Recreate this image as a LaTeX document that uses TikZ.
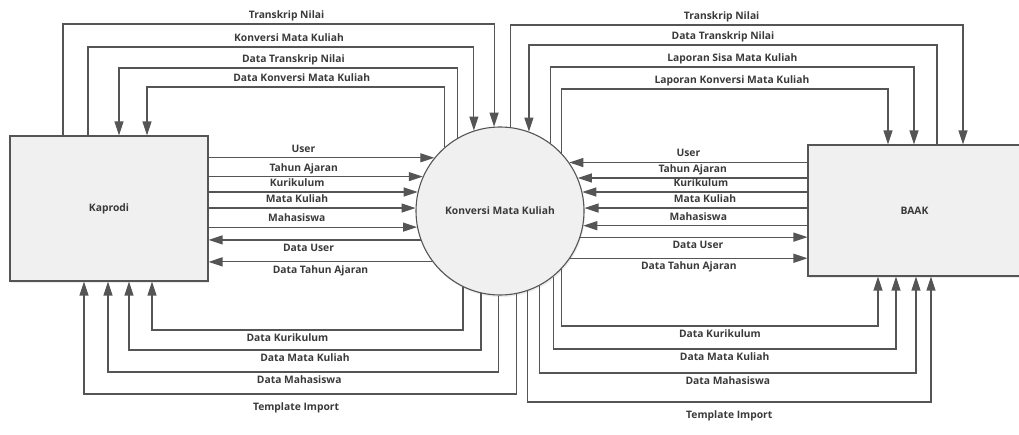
\documentclass[tikz,border=0pt]{standalone}
\usepackage{fontspec}
\setmainfont{Open Sans}
\usetikzlibrary{arrows.meta,shadows}
\definecolor{garis}{HTML}{555555}
\definecolor{teks}{HTML}{3A3A3A}
\definecolor{isi}{HTML}{F0F0F0}
\begin{document}
\begin{tikzpicture}[x=1pt,y=-1pt,font=\bfseries\fontsize{10.3}{11}\selectfont]

\tikzset{entitas/.style={rectangle,draw=garis,line width=1.1pt,fill=isi,text=teks,inner sep=0pt,drop shadow={opacity=0.15,shadow xshift=1pt,shadow yshift=-2pt}},}
\tikzset{proses/.style={circle,draw=garis,line width=1.1pt,fill=isi,text=teks,minimum size=168pt,inner sep=0pt,drop shadow={opacity=0.15,shadow xshift=1pt,shadow yshift=-2pt}},}
\tikzset{alir/.style={draw=garis,line width=1.2pt,-{Triangle[length=14pt,width=9pt]}},}
\tikzset{atas/.style={above=2pt,inner sep=1pt,text=teks,text height=8pt,text depth=2pt},}
\tikzset{bawah/.style={below=2pt,inner sep=1pt,text=teks,text height=8pt,text depth=2pt},}

\useasboundingbox (0,0) rectangle (1019,434);

%ENTITAS DAN PROSES
\draw (109,208.5) node [entitas,minimum width=198pt,minimum height=145pt] (kaprodi) {Kaprodi};
\draw (500,211) node [proses] (konversi) {Konversi Mata Kuliah};
\draw (914.5,210.5) node [entitas,minimum width=213pt,minimum height=131pt] (baak) {BAAK};

%KAPRODI ATAS
\draw[alir] (kaprodi.north -| 63,0) -- (63,24) -- node[atas,xshift=8pt]{Transkrip Nilai} (konversi.94.1 |- 0,24) -- (konversi.94.1);
\draw[alir] (kaprodi.north -| 88,0) -- (88,47) -- node[atas,xshift=8pt]{Konversi Mata Kuliah} (konversi.108.7 |- 0,47) -- (konversi.108.7);
\draw[alir] (konversi.120.8) -- (konversi.120.8 |- 0,68) -- node[atas,xshift=5pt]{Data Transkrip Nilai} (119,68) -- (kaprodi.north -| 119,0);
\draw[alir] (konversi.131.8) -- (konversi.131.8 |- 0,87) -- node[atas,xshift=6pt]{Data Konversi Mata Kuliah} (147,87) -- (kaprodi.north -| 147,0);

%BAAK ATAS
\draw[alir] (konversi.83.85) -- (konversi.83.85 |- 0,25) -- node[atas,xshift=-15pt]{Transkrip Nilai} (963,25) -- (baak.north -| 963,0);
\draw[alir] (baak.north -| 937,0) -- (937,45) -- node[atas,xshift=-10pt]{Data Transkrip Nilai} (konversi.70.5 |- 0,45) -- (konversi.70.5);
\draw[alir] (konversi.53.5) -- (konversi.53.5 |- 0,67) -- node[atas]{Laporan Sisa Mata Kuliah} (914,67) -- (baak.north -| 914,0);
\draw[alir] (konversi.43.4) -- (konversi.43.4 |- 0,89) -- node[atas,xshift=7pt]{Laporan Konversi Mata Kuliah} (888,89) -- (baak.north -| 888,0);

%KAPRODI TENGAH
\draw[alir] (kaprodi.east |- konversi.141.8) -- node[atas,xshift=-18pt]{User} (konversi.141.8);
\draw[alir] (kaprodi.east |- konversi.156.9) -- node[atas,xshift=-12pt]{Tahun Ajaran} (konversi.156.9);
\draw[alir] (kaprodi.east |- konversi.167.6) -- node[atas,xshift=-16pt]{Kurikulum} (konversi.167.6);
\draw[alir] (kaprodi.east |- konversi.178.6) -- node[atas,xshift=-15pt]{Mata Kuliah} (konversi.178.6);
\draw[alir] (kaprodi.east |- konversi.191.0) -- node[atas,xshift=-16pt]{Mahasiswa} (konversi.191.0);
\draw[alir] (konversi.200.2) -- node[bawah,xshift=-6pt]{Data User} (kaprodi.east |- konversi.200.2);
\draw[alir] (konversi.217.4) -- node[bawah]{Data Tahun Ajaran} (kaprodi.east |- konversi.217.4);

%BAAK TENGAH
\draw[alir] (baak.west |- konversi.35.7) -- node[atas]{User} (konversi.35.7);
\draw[alir] (baak.west |- konversi.23.1) -- node[atas]{Tahun Ajaran} (konversi.23.1);
\draw[alir] (baak.west |- konversi.13.1) -- node[atas,xshift=6pt]{Kurikulum} (konversi.13.1);
\draw[alir] (baak.west |- konversi.2.0) -- node[atas,xshift=9pt]{Mata Kuliah} (konversi.2.0);
\draw[alir] (baak.west |- konversi.-10.3) -- node[atas,xshift=3pt]{Mahasiswa} (konversi.-10.3);
\draw[alir] (konversi.-18.7) -- node[bawah,xshift=4pt]{Data User} (baak.west |- konversi.-18.7);
\draw[alir] (konversi.-34.8) -- node[bawah]{Data Tahun Ajaran} (baak.west |- konversi.-34.8);

%KAPRODI BAWAH
\draw[alir] (konversi.-116.1) -- (konversi.-116.1 |- 0,330) -- node[bawah,xshift=-20pt]{Data Kurikulum} (152,330) -- (kaprodi.south -| 152,0);
\draw[alir] (konversi.-103.1) -- (konversi.-103.1 |- 0,350) -- node[bawah]{Data Mata Kuliah} (129,350) -- (kaprodi.south -| 129,0);
\draw[alir] (konversi.-91.4) -- (konversi.-91.4 |- 0,372) -- node[bawah,xshift=-4pt]{Data Mahasiswa} (108,372) -- (kaprodi.south -| 108,0);
\draw[alir] (konversi.-79.0) -- (konversi.-79.0 |- 0,394) -- node[bawah,xshift=-4pt,below=5pt]{Template Import} (84,394) -- (kaprodi.south -| 84,0);

%BAAK BAWAH
\draw[alir] (konversi.-43.4) -- (konversi.-43.4 |- 0,326) -- node[bawah]{Data Kurikulum} (878,326) -- (baak.south -| 878,0);
\draw[alir] (konversi.-51.8) -- (konversi.-51.8 |- 0,349) -- node[bawah]{Data Mata Kuliah} (896,349) -- (baak.south -| 896,0);
\draw[alir] (konversi.-62.3) -- (konversi.-62.3 |- 0,373) -- node[bawah]{Data Mahasiswa} (916,373) -- (baak.south -| 916,0);
\draw[alir] (konversi.-71.3) -- (konversi.-71.3 |- 0,402) -- node[bawah,below=5pt]{Template Import} (931,402) -- (baak.south -| 931,0);

\end{tikzpicture}
\end{document}
